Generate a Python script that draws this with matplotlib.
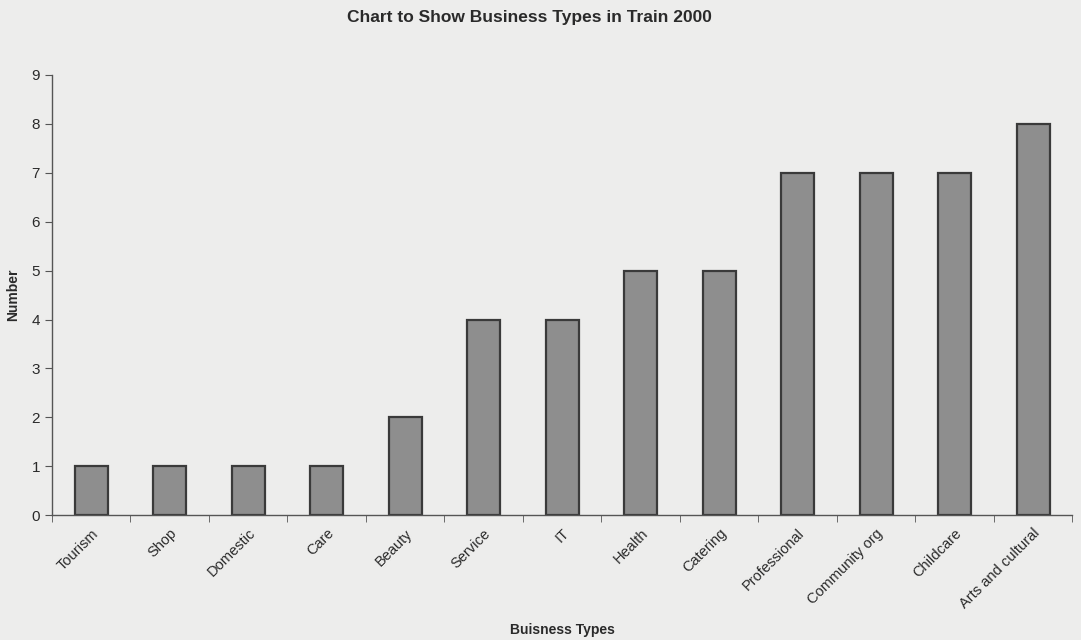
import numpy as np
import matplotlib.pyplot as plt

# Дані графіка
categories = ['Tourism', 'Shop', 'Domestic', 'Care', 'Beauty', 'Service', 'IT',
              'Health', 'Catering', 'Professional', 'Community org', 'Childcare',
              'Arts and cultural']
counts = [1, 1, 1, 1, 2, 4, 4, 5, 5, 7, 7, 7, 8]

plt.rcParams['font.family'] = ['Liberation Sans', 'DejaVu Sans']

bg = '#ededec'
txt = '#2a2a2a'
fig = plt.figure(figsize=(10.81, 6.4), dpi=100, facecolor=bg)
ax = fig.add_axes([0.048, 0.195, 0.944, 0.688], facecolor=bg)

x = np.arange(len(categories))
ax.bar(x, counts, width=0.42, color='#8e8e8e', edgecolor='#3a3a3a', linewidth=1.6)

ax.set_xlim(-0.5, len(categories) - 0.5)
ax.set_ylim(0, 9)
ax.set_yticks(range(0, 10))
ax.tick_params(axis='y', direction='out', length=5, colors='#555555',
               labelcolor=txt, labelsize=11)

# підписи категорій під кутом, риски між стовпцями
ax.set_xticks(x)
ax.set_xticklabels(categories, rotation=45, ha='right', rotation_mode='anchor',
                   fontsize=10.5, color=txt)
ax.tick_params(axis='x', which='major', length=0, pad=8)
ax.set_xticks(np.arange(-0.5, len(categories), 1), minor=True)
ax.tick_params(axis='x', which='minor', direction='out', length=5, colors='#555555')

for side in ['top', 'right']:
    ax.spines[side].set_visible(False)
for side in ['left', 'bottom']:
    ax.spines[side].set_color('#555555')
    ax.spines[side].set_linewidth(1.0)

ax.set_ylabel('Number', fontsize=10, fontweight='bold', color=txt, labelpad=8)
ax.set_xlabel('Buisness Types', fontsize=10, fontweight='bold', color=txt, va='center')
ax.xaxis.set_label_coords(0.5, -0.26)
fig.text(0.49, 0.972, 'Chart to Show Business Types in Train 2000', ha='center',
         va='center', fontsize=12.5, fontweight='bold', color=txt)

fig.savefig('out.png', dpi=100, facecolor=bg)
